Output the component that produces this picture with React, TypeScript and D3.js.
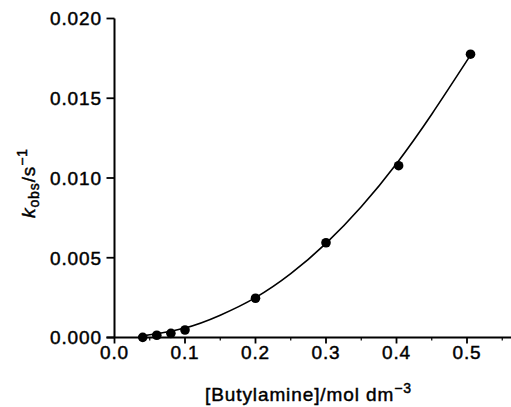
import React from "react";
import * as d3 from "d3";

const conc = [0.04, 0.06, 0.08, 0.1, 0.2, 0.3, 0.403, 0.505];
const kobs = [0.00001, 0.00014, 0.00026, 0.00047, 0.00246, 0.00594, 0.01077, 0.01776];

const curveX = [0.04, 0.1, 0.15, 0.2, 0.25, 0.3, 0.35, 0.4, 0.45, 0.505];
const curveY = [0.0001, 0.0006, 0.0014, 0.0025, 0.004, 0.0059, 0.0082, 0.0109, 0.014, 0.0177];

const xTicks = [0, 0.1, 0.2, 0.3, 0.4, 0.5];
const xMinor = [0.05, 0.15, 0.25, 0.35, 0.45, 0.55];
const yTicks = [0, 0.005, 0.01, 0.015, 0.02];

const W = 511;
const H = 407;
const FONT = "Liberation Sans, Arial, Helvetica, sans-serif";

export default function App() {
  const x = d3.scaleLinear().domain([0, 0.5]).range([114.5, 467]);
  const y = d3.scaleLinear().domain([0, 0.02]).range([337.5, 18.5]);
  const line = d3
    .line<number>()
    .x((d) => x(d))
    .y((_, i) => y(curveY[i]))
    .curve(d3.curveNatural);

  const textStyle = {
    fontFamily: FONT,
    fontSize: 19,
    letterSpacing: 0.9,
    fill: "#000",
    stroke: "#000",
    strokeWidth: 0.45,
  } as const;

  return (
    <svg
      width={W}
      height={H}
      style={{ position: "absolute", left: 0, top: 0, background: "#fff" }}
    >
      {/* axes */}
      <line x1={x(0)} x2={x(0)} y1={y(0.02)} y2={y(0)} stroke="#000" strokeWidth={2} />
      <line x1={x(0) - 8} x2={W} y1={y(0)} y2={y(0)} stroke="#000" strokeWidth={2} />
      {yTicks.map((t) => (
        <g key={"y" + t}>
          <line x1={x(0) - 8} x2={x(0)} y1={y(t)} y2={y(t)} stroke="#000" strokeWidth={1.8} />
          <text x={102} y={y(t)} dy="0.36em" textAnchor="end" style={textStyle}>
            {d3.format(".3f")(t)}
          </text>
        </g>
      ))}
      {xTicks.map((t) => (
        <g key={"x" + t}>
          <line x1={x(t)} x2={x(t)} y1={y(0)} y2={y(0) + 6} stroke="#000" strokeWidth={1.8} />
          <text x={x(t)} y={359} textAnchor="middle" style={textStyle}>
            {d3.format(".1f")(t)}
          </text>
        </g>
      ))}
      {xMinor.map((t) => (
        <line key={"m" + t} x1={x(t)} x2={x(t)} y1={y(0)} y2={y(0) + 3} stroke="#000" strokeWidth={1.2} />
      ))}

      {/* fitted curve */}
      <path d={line(curveX) || ""} fill="none" stroke="#000" strokeWidth={1.6} />

      {/* points */}
      {conc.map((c, i) => (
        <circle key={"p" + i} cx={x(c)} cy={y(kobs[i])} r={4.8} fill="#000" />
      ))}

      {/* y label */}
      <text
        transform="translate(35,183) rotate(-90)"
        textAnchor="middle"
        style={textStyle}
      >
        <tspan fontStyle="italic">k</tspan>
        <tspan fontSize={14} dy={4}>obs</tspan>
        <tspan dy={-4}>/s</tspan>
        <tspan fontSize={14} dy={-8}>−1</tspan>
      </text>

      {/* x label */}
      <text x={205} y={401} textAnchor="start" style={textStyle}>
        <tspan>[Butylamine]/mol dm</tspan>
        <tspan fontSize={14} dy={-8}>−3</tspan>
      </text>
    </svg>
  );
}
